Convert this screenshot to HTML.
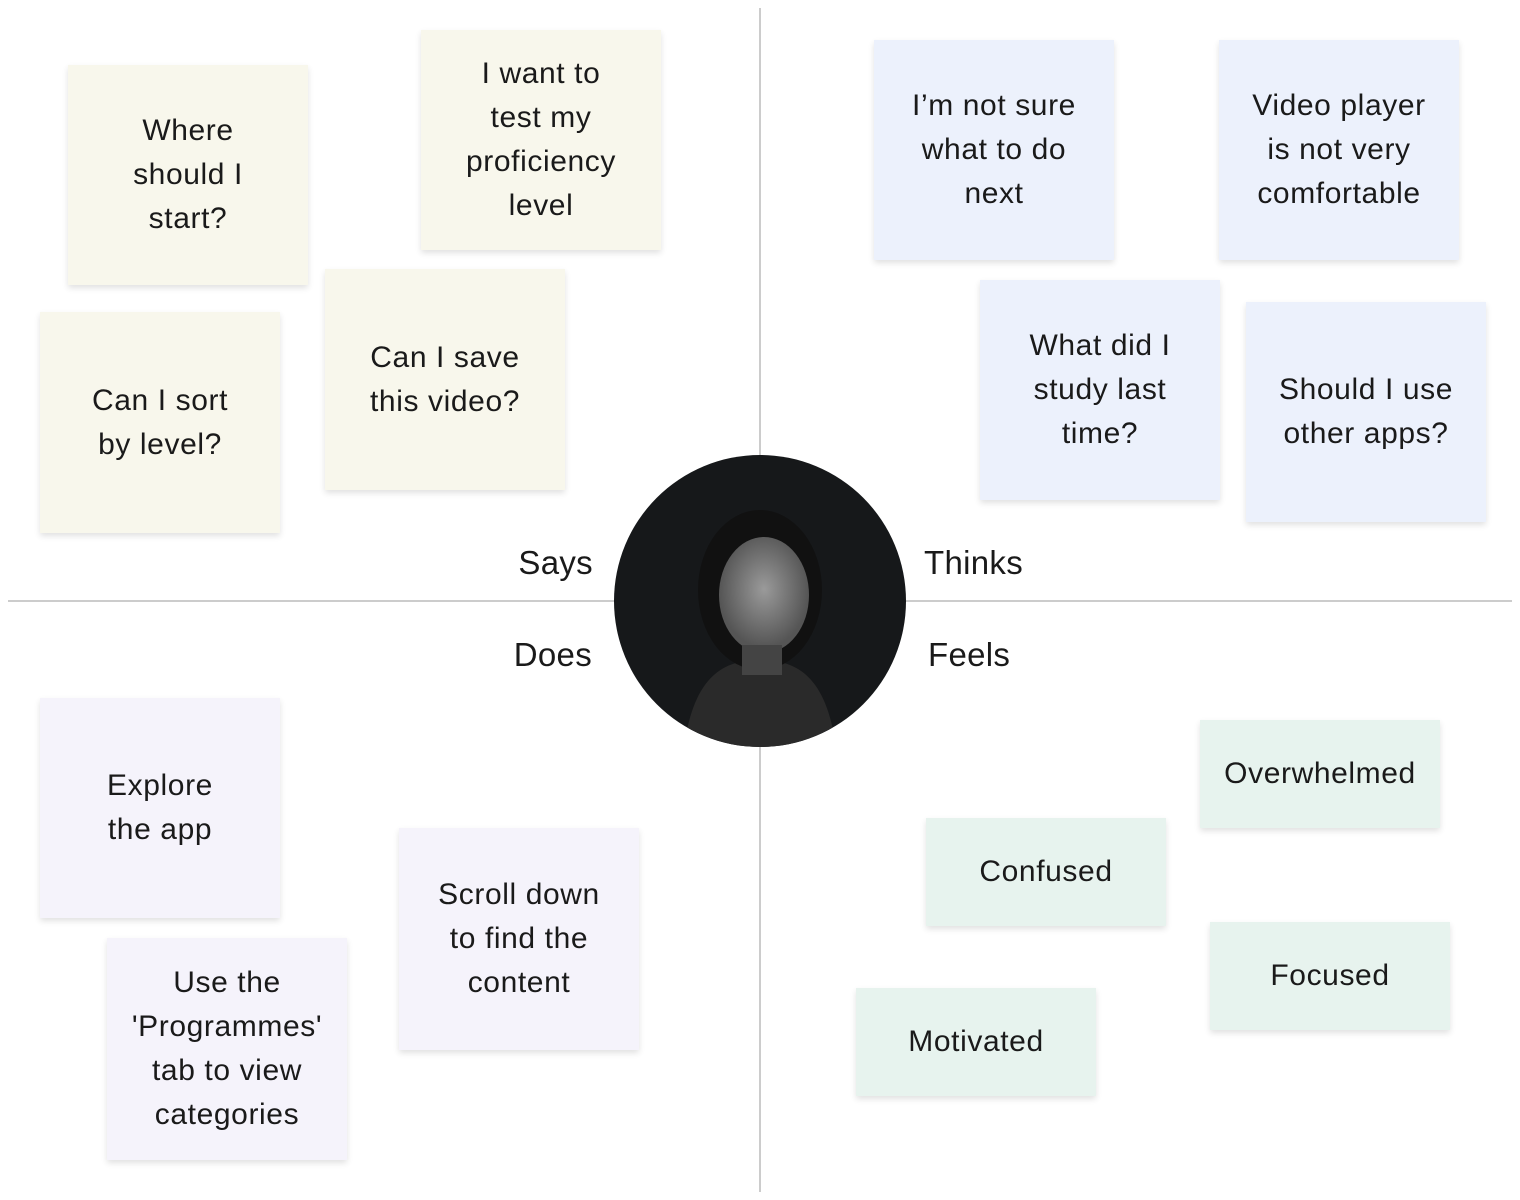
<!DOCTYPE html>
<html><head><meta charset="utf-8"><style>
body{margin:0;width:1520px;height:1200px;background:#fff;position:relative;overflow:hidden;font-family:"Liberation Sans",sans-serif;color:#1a1a1a}
.n{position:absolute;width:240px;display:flex;align-items:center;justify-content:center;text-align:center;font-size:30px;letter-spacing:0.6px;line-height:44px;box-shadow:0 3px 6px rgba(0,0,0,0.12)}
.s{background:#f8f7ec}.t{background:#ecf1fc}.d{background:#f5f3fb}.f{background:#e7f3ee}
.l{position:absolute;font-size:33px;letter-spacing:0.3px;line-height:36px}
</style></head><body>
<div style="position:absolute;left:759px;top:8px;width:1.5px;height:1184px;background:#ccc"></div>
<div style="position:absolute;left:8px;top:600px;width:1504px;height:1.5px;background:#ccc"></div>

<div class="n s" style="left:68px;top:65px;height:220px">Where<br>should I<br>start?</div>
<div class="n s" style="left:421px;top:30px;height:220px">I want to<br>test my<br>proficiency<br>level</div>
<div class="n s" style="left:40px;top:312px;height:221px">Can I sort<br>by level?</div>
<div class="n s" style="left:325px;top:269px;height:221px">Can I save<br>this video?</div>

<div class="n t" style="left:874px;top:40px;height:220px">I’m not sure<br>what to do<br>next</div>
<div class="n t" style="left:1219px;top:40px;height:220px">Video player<br>is not very<br>comfortable</div>
<div class="n t" style="left:980px;top:280px;height:220px">What did I<br>study last<br>time?</div>
<div class="n t" style="left:1246px;top:302px;height:220px">Should I use<br>other apps?</div>

<div class="n d" style="left:40px;top:698px;height:220px">Explore<br>the app</div>
<div class="n d" style="left:399px;top:828px;height:222px">Scroll down<br>to find the<br>content</div>
<div class="n d" style="left:107px;top:938px;height:222px">Use the<br>'Programmes'<br>tab to view<br>categories</div>

<div class="n f" style="left:1200px;top:720px;height:108px">Overwhelmed</div>
<div class="n f" style="left:926px;top:818px;height:108px">Confused</div>
<div class="n f" style="left:1210px;top:922px;height:108px">Focused</div>
<div class="n f" style="left:856px;top:988px;height:108px">Motivated</div>

<div class="l" style="right:927px;top:545px">Says</div>
<div class="l" style="left:924px;top:545px">Thinks</div>
<div class="l" style="right:928px;top:637px">Does</div>
<div class="l" style="left:928px;top:637px">Feels</div>

<svg style="position:absolute;left:614px;top:455px" width="292" height="292">
<defs><clipPath id="c"><circle cx="146" cy="146" r="146"/></clipPath>
<radialGradient id="g" cx="0.5" cy="0.45" r="0.5"><stop offset="0" stop-color="#9a9a9a"/><stop offset="1" stop-color="#555"/></radialGradient></defs>
<g clip-path="url(#c)">
<rect width="292" height="292" fill="#16181a"/>
<path d="M70 292 C80 220 110 205 146 205 C182 205 212 220 222 292Z" fill="#2a2a2a"/>
<ellipse cx="146" cy="135" rx="62" ry="80" fill="#111"/>
<ellipse cx="150" cy="140" rx="45" ry="58" fill="url(#g)"/>
<rect x="128" y="190" width="40" height="30" fill="#444"/>
</g></svg>
</body></html>
